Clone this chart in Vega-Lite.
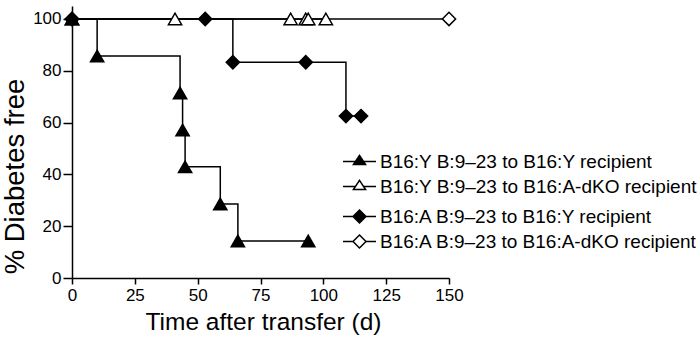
{
  "$schema": "https://vega.github.io/schema/vega-lite/v6.json",
  "autosize": "none",
  "width": 377,
  "height": 272,
  "padding": {"left": 72, "top": 6, "right": 251, "bottom": 63},
  "background": "white",
  "config": {
    "view": {"stroke": null},
    "font": "Liberation Sans",
    "axis": {
      "grid": false,
      "domainColor": "black",
      "domainWidth": 1.5,
      "tickColor": "black",
      "tickWidth": 1.5,
      "labelColor": "black",
      "labelFont": "Liberation Sans",
      "labelFontSize": 17,
      "labelFlush": false,
      "titleFont": "Liberation Sans",
      "titleFontWeight": "normal",
      "titleColor": "black"
    },
    "legend": {
      "title": null,
      "orient": "none",
      "legendX": 273,
      "padding": 0,
      "symbolSize": 729,
      "symbolStrokeWidth": 1.5,
      "symbolStrokeColor": "black",
      "labelFont": "Liberation Sans",
      "labelFontSize": 19,
      "labelColor": "black",
      "labelOffset": 6,
      "labelLimit": 0,
      "rowPadding": -4.5
    }
  },
  "data": {
    "values": [
      {"s": "B16:A B:9–23 to B16:A-dKO recipient", "d": 0, "p": 100},
      {"s": "B16:A B:9–23 to B16:A-dKO recipient", "d": 150, "p": 100},
      {"s": "B16:A B:9–23 to B16:Y recipient", "d": 0, "p": 100},
      {"s": "B16:A B:9–23 to B16:Y recipient", "d": 53, "p": 100},
      {"s": "B16:A B:9–23 to B16:Y recipient", "d": 64, "p": 83.3},
      {"s": "B16:A B:9–23 to B16:Y recipient", "d": 93, "p": 83.3},
      {"s": "B16:A B:9–23 to B16:Y recipient", "d": 109, "p": 62.5},
      {"s": "B16:A B:9–23 to B16:Y recipient", "d": 115, "p": 62.5},
      {"s": "B16:Y B:9–23 to B16:A-dKO recipient", "d": 0, "p": 100},
      {"s": "B16:Y B:9–23 to B16:A-dKO recipient", "d": 41, "p": 100},
      {"s": "B16:Y B:9–23 to B16:A-dKO recipient", "d": 87, "p": 100},
      {"s": "B16:Y B:9–23 to B16:A-dKO recipient", "d": 93, "p": 100},
      {"s": "B16:Y B:9–23 to B16:A-dKO recipient", "d": 94, "p": 100},
      {"s": "B16:Y B:9–23 to B16:A-dKO recipient", "d": 101, "p": 100},
      {"s": "B16:Y B:9–23 to B16:Y recipient", "d": 0, "p": 100},
      {"s": "B16:Y B:9–23 to B16:Y recipient", "d": 10, "p": 85.7},
      {"s": "B16:Y B:9–23 to B16:Y recipient", "d": 43, "p": 71.4},
      {"s": "B16:Y B:9–23 to B16:Y recipient", "d": 44, "p": 57.1},
      {"s": "B16:Y B:9–23 to B16:Y recipient", "d": 45, "p": 42.9},
      {"s": "B16:Y B:9–23 to B16:Y recipient", "d": 59, "p": 28.6},
      {"s": "B16:Y B:9–23 to B16:Y recipient", "d": 66, "p": 14.3},
      {"s": "B16:Y B:9–23 to B16:Y recipient", "d": 94, "p": 14.3}
    ]
  },
  "encoding": {
    "x": {
      "field": "d", "type": "quantitative",
      "scale": {"domain": [0, 150], "nice": false, "zero": false},
      "axis": {
        "values": [0, 25, 50, 75, 100, 125, 150],
        "tickSize": 6, "labelPadding": 3,
        "title": "Time after transfer (d)",
        "titleFontSize": 24.5, "titlePadding": 7, "titleX": 191
      }
    },
    "y": {
      "field": "p", "type": "quantitative",
      "scale": {"domain": [0, 105], "nice": false},
      "axis": {
        "values": [0, 20, 40, 60, 80, 100],
        "tickSize": 9, "labelPadding": 2,
        "title": "% Diabetes free",
        "titleFontSize": 27.5,
        "titleAngle": -90,
        "titleAlign": "center",
        "titleBaseline": "middle",
        "titleX": -56.5,
        "titleY": 170
      }
    }
  },
  "layer": [
    {
      "mark": {"type": "line", "interpolate": "step-after", "color": "black", "strokeWidth": 1.5},
      "encoding": {"detail": {"field": "s"}}
    },
    {
      "transform": [{"filter": "substring(datum.s, 0, 5) == 'B16:A'"}],
      "mark": {"type": "point", "shape": "diamond", "filled": true, "opacity": 1, "stroke": "black", "strokeWidth": 1.5, "size": 175},
      "encoding": {
        "fill": {
          "field": "s", "type": "nominal",
          "scale": {
            "domain": ["B16:A B:9–23 to B16:Y recipient", "B16:A B:9–23 to B16:A-dKO recipient"],
            "range": ["black", "white"]
          },
          "legend": {
            "legendY": 196,
            "symbolType": "M-1.22,0H-0.48M0.48,0H1.22M0,-0.48L0.48,0L0,0.48L-0.48,0Z"
          }
        }
      }
    },
    {
      "transform": [{"filter": "substring(datum.s, 0, 5) == 'B16:Y'"}],
      "mark": {"type": "point", "shape": "triangle-up", "filled": true, "opacity": 1, "stroke": "black", "strokeWidth": 1.5, "size": 175},
      "encoding": {
        "fill": {
          "field": "s", "type": "nominal",
          "scale": {
            "domain": ["B16:Y B:9–23 to B16:Y recipient", "B16:Y B:9–23 to B16:A-dKO recipient"],
            "range": ["black", "white"]
          },
          "legend": {
            "legendY": 141,
            "symbolType": "M-1.22,0H-0.3M0.3,0H1.22M0,-0.45L0.45,0.22L-0.45,0.22Z"
          }
        }
      }
    }
  ],
  "resolve": {"scale": {"fill": "independent"}, "legend": {"fill": "independent"}}
}
